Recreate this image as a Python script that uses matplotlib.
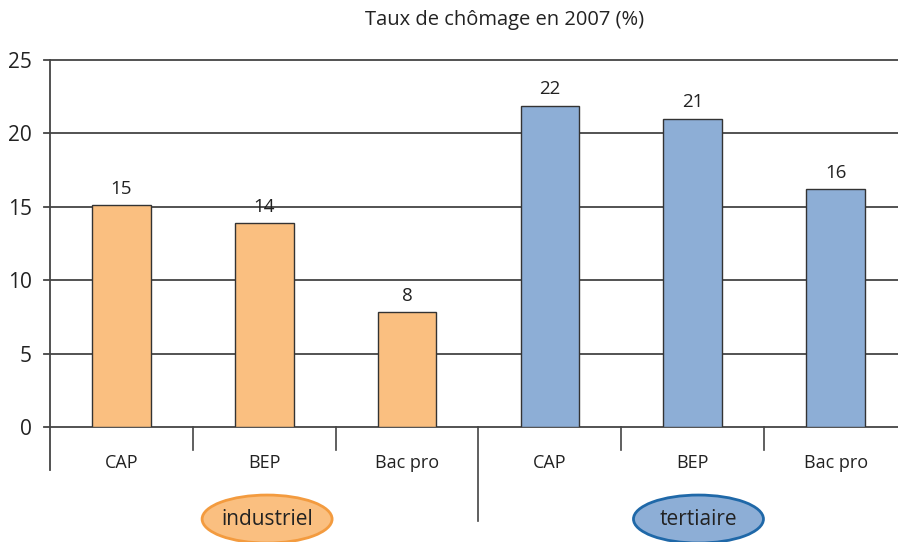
import matplotlib
matplotlib.use("Agg")
import matplotlib.pyplot as plt
from matplotlib.patches import Ellipse

plt.rcParams['font.family'] = ['Open Sans', 'DejaVu Sans']

categories = ["CAP", "BEP", "Bac pro", "CAP", "BEP", "Bac pro"]
values = [15.1, 13.9, 7.8, 21.9, 21.0, 16.2]
value_labels = ["15", "14", "8", "22", "21", "16"]
groups = ["industriel", "tertiaire"]
title = "Taux de chômage en 2007 (%)"
yticks = [0, 5, 10, 15, 20, 25]

orange = "#FABF80"
blue = "#8DAED6"
colors = [orange] * 3 + [blue] * 3
ell_fill = [orange, blue]
ell_edge = ["#F39B3F", "#1F68A8"]

W, H = 898, 542
fig = plt.figure(figsize=(W / 100, H / 100), dpi=100)
left, right, top, bottom = 50, 907, 60, 427
ax = fig.add_axes([left / W, (H - bottom) / H, (right - left) / W, (bottom - top) / H])

x = list(range(len(categories)))
ax.bar(x, values, width=0.41, color=colors, edgecolor="#333333", linewidth=1.0, zorder=3)
for xi, v, lab in zip(x, values, value_labels):
    ax.text(xi, v + 0.5, lab, ha="center", va="bottom", fontsize=13.5, color="#222222")

ax.set_xlim(-0.5, 5.5)
ax.set_ylim(0, 25)
for yv in yticks:
    ax.axhline(yv, color="#444444", lw=1.3, zorder=1, xmin=-0.007, clip_on=False)
for s in ax.spines.values():
    s.set_visible(False)
ax.set_xticks([])
ax.set_yticks(yticks)
ax.set_yticklabels([str(t) for t in yticks], fontsize=15, color="#222222")
ax.tick_params(axis="y", length=0, pad=13)

# left axis line extended below
ax.plot([-0.5, -0.5], [25, -2.95], color="#444444", lw=1.3, clip_on=False, zorder=4)
# separators
for sx in [0.5, 1.5, 3.5, 4.5]:
    ax.plot([sx, sx], [0, -1.6], color="#444444", lw=1.2, clip_on=False)
ax.plot([2.5, 2.5], [0, -6.4], color="#444444", lw=1.2, clip_on=False)

for xi, c in zip(x, categories):
    ax.text(xi, -2.45, c, ha="center", va="center", fontsize=13, color="#222222")

for gi, (g, gx) in enumerate(zip(groups, [1.02, 4.04])):
    e = Ellipse((gx, -6.27), 0.91, 3.27, facecolor=ell_fill[gi], edgecolor=ell_edge[gi],
                lw=2, clip_on=False, zorder=5)
    ax.add_patch(e)
    ax.text(gx, -6.27, g, ha="center", va="center", fontsize=15, color="#222222", zorder=6)

fig.text(505 / W, 1 - 20 / H, title, ha="center", va="center", fontsize=14.5, color="#222222")

fig.savefig("out.png", dpi=100)
